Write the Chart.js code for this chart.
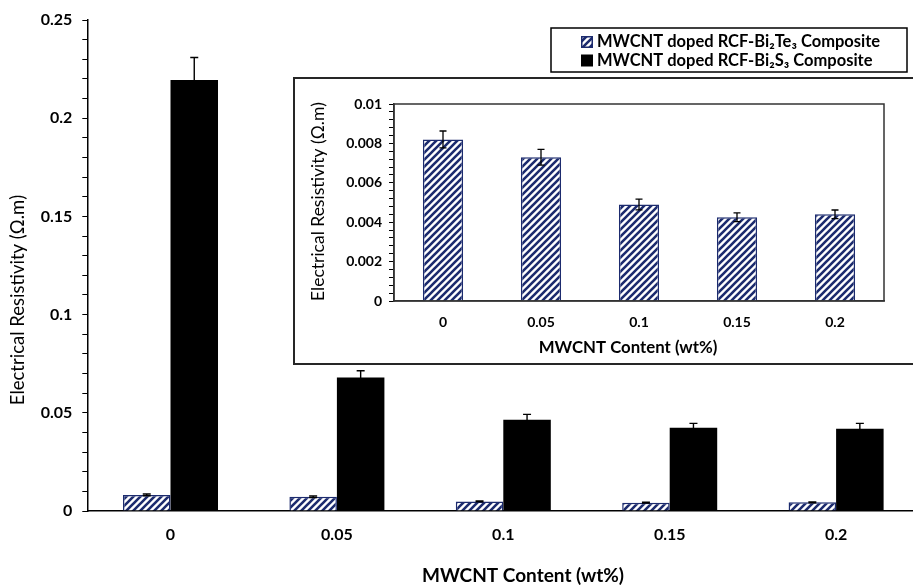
<!DOCTYPE html>
<html>
<head>
<meta charset="utf-8">
<title>Electrical resistivity of MWCNT doped RCF composites</title>
<script src="https://cdn.jsdelivr.net/npm/chart.js@4.4.1/dist/chart.umd.min.js"></script>
<style>
  html, body { margin: 0; padding: 0; background: #fff; }
  #stage { position: relative; width: 913px; height: 587px; overflow: hidden; background: #fff; }
  #main { position: absolute; left: 0; top: 0; }
  #insetBox { position: absolute; left: 293px; top: 77px; width: 640px; height: 284px;
              border: 2px solid #262626; background: #fff; }
  #inset { position: absolute; left: 0; top: 0; }
</style>
</head>
<body>
<div id="stage">
  <canvas id="main" width="930" height="587"></canvas>
  <div id="insetBox"><canvas id="inset" width="630" height="284"></canvas></div>
</div>
<script>
// MWCNT content categories (wt%)
const contentLabels = ['0', '0.05', '0.1', '0.15', '0.2'];

// Bi2Te3 composite: resistivity (Ω.m) and error
const bi2te3Resistivity = [0.0082, 0.0073, 0.0049, 0.00425, 0.0044];
const bi2te3Error = [0.00043, 0.0004, 0.00027, 0.00022, 0.00022];

// Bi2S3 composite: resistivity (Ω.m) and error
const bi2s3Resistivity = [0.2195, 0.068, 0.0465, 0.0424, 0.0419];
const bi2s3Error = [0.0114, 0.0034, 0.0027, 0.0022, 0.0027];

// Labelled (major) tick values of both value axes
const mainYLabels = ['0', '0.05', '0.1', '0.15', '0.2', '0.25'];
const insetYLabels = ['0', '0.002', '0.004', '0.006', '0.008', '0.01'];

const seriesNames = ['MWCNT doped RCF-Bi\u2082Te\u2083 Composite', 'MWCNT doped RCF-Bi\u2082S\u2083 Composite'];

const NAVY = '#1c2b6e';
const FONT = 'Lato, "Open Sans", sans-serif';

// diagonal hatch fill for the Bi2Te3 bars
function makeHatch() {
  const s = 7;
  const t = document.createElement('canvas');
  t.width = s; t.height = s;
  const c = t.getContext('2d');
  c.fillStyle = '#fff';
  c.fillRect(0, 0, s, s);
  c.strokeStyle = NAVY;
  c.lineWidth = 2.6;
  c.beginPath();
  c.moveTo(-2, s + 2); c.lineTo(s + 2, -2);
  c.moveTo(-2, 2); c.lineTo(2, -2);
  c.moveTo(s - 2, s + 2); c.lineTo(s + 2, s - 2);
  c.stroke();
  return c.createPattern(t, 'repeat');
}
const hatch = makeHatch();

function tickFormatter(list) {
  return function (v) {
    const s = String(+Number(v).toFixed(5));
    return list.includes(s) ? s : '';
  };
}

// vertical error bars with caps, placed through the value scale
const errorBars = {
  id: 'errorBars',
  afterDatasetsDraw(chart, args, opts) {
    const ctx = chart.ctx;
    const ys = chart.scales.y;
    chart.data.datasets.forEach((ds, di) => {
      if (!ds.errors) return;
      const meta = chart.getDatasetMeta(di);
      meta.data.forEach((bar, i) => {
        const v = ds.data[i], e = ds.errors[i];
        const x = bar.x;
        const y1 = ys.getPixelForValue(v + e);
        const y2 = ys.getPixelForValue(v - e);
        ctx.save();
        ctx.strokeStyle = '#000';
        ctx.lineWidth = opts.width;
        ctx.beginPath();
        ctx.moveTo(x, y1); ctx.lineTo(x, y2);
        ctx.moveTo(x - opts.cap, y1); ctx.lineTo(x + opts.cap, y1);
        ctx.moveTo(x - opts.cap, y2); ctx.lineTo(x + opts.cap, y2);
        ctx.stroke();
        ctx.restore();
      });
    });
  }
};

// axis titles and boxed legend of the main chart
const mainDecor = {
  id: 'mainDecor',
  afterDraw(chart) {
    const ctx = chart.ctx;
    ctx.save();
    ctx.fillStyle = '#000';
    ctx.textAlign = 'center';
    ctx.textBaseline = 'middle';
    ctx.font = 'bold 19px ' + FONT;
    ctx.fillText('MWCNT Content (wt%)', 523, 576);
    ctx.save();
    ctx.translate(18, 300);
    ctx.rotate(-Math.PI / 2);
    ctx.font = '18.5px ' + FONT;
    ctx.fillText('Electrical Resistivity (\u03A9.m)', 0, 0);
    ctx.restore();

    // legend
    ctx.fillStyle = '#fff';
    ctx.fillRect(551, 28, 356, 44);
    ctx.strokeStyle = '#000';
    ctx.lineWidth = 1.5;
    ctx.strokeRect(551, 28, 356, 44);
    const ds = chart.data.datasets;
    const rows = [42, 60.5];
    ds.forEach((d, i) => {
      const y = rows[i];
      ctx.fillStyle = d.backgroundColor;
      ctx.fillRect(581, y - 6, 12, 12);
      if (d.borderWidth) {
        ctx.strokeStyle = d.borderColor;
        ctx.lineWidth = 1.5;
        ctx.strokeRect(581.75, y - 5.25, 10.5, 10.5);
      }
      ctx.fillStyle = '#000';
      ctx.textAlign = 'left';
      ctx.font = 'bold 16.5px ' + FONT;
      ctx.fillText(d.label, 597, y);
    });
    ctx.restore();
  }
};

// plot frame and axis titles of the inset chart
const insetDecor = {
  id: 'insetDecor',
  afterDraw(chart) {
    const ctx = chart.ctx;
    const a = chart.chartArea;
    ctx.save();
    ctx.strokeStyle = '#333';
    ctx.lineWidth = 1.5;
    ctx.strokeRect(a.left, a.top, a.right - a.left, a.bottom - a.top);
    ctx.fillStyle = '#000';
    ctx.textAlign = 'center';
    ctx.textBaseline = 'middle';
    ctx.font = 'bold 16.8px ' + FONT;
    ctx.fillText('MWCNT Content (wt%)', 333, 269);
    ctx.translate(23, 122.5);
    ctx.rotate(-Math.PI / 2);
    ctx.font = '17.5px ' + FONT;
    ctx.fillText('Electrical Resistivity (\u03A9.m)', 0, 0);
    ctx.restore();
  }
};

const tickFont = (size) => ({ family: FONT, weight: 'bold', size: size });

// main chart: both composites
new Chart(document.getElementById('main'), {
  type: 'bar',
  data: {
    labels: contentLabels,
    datasets: [
      {
        label: seriesNames[0],
        data: bi2te3Resistivity,
        errors: bi2te3Error,
        backgroundColor: hatch,
        borderColor: NAVY,
        borderWidth: 1.5,
        categoryPercentage: 0.571,
        barPercentage: 1
      },
      {
        label: seriesNames[1],
        data: bi2s3Resistivity,
        errors: bi2s3Error,
        backgroundColor: '#000',
        borderWidth: 0,
        categoryPercentage: 0.571,
        barPercentage: 1
      }
    ]
  },
  options: {
    responsive: false,
    animation: false,
    devicePixelRatio: 1,
    layout: { padding: { top: 20, right: 10.7, left: 0, bottom: 0 } },
    plugins: {
      legend: { display: false },
      tooltip: { enabled: false },
      errorBars: { cap: 4, width: 1.4 }
    },
    scales: {
      x: {
        grid: { display: false, drawTicks: false },
        border: { display: true, color: '#000', width: 1.5 },
        ticks: { color: '#000', font: tickFont(16), padding: 14 },
        afterFit(s) { s.height = 76; }
      },
      y: {
        min: 0,
        max: 0.25,
        ticks: { stepSize: 0.01, autoSkip: false, padding: 10, color: '#000',
                 font: tickFont(16), callback: tickFormatter(mainYLabels) },
        grid: { display: true, drawOnChartArea: false, drawTicks: true, tickLength: 5,
                color: '#000', lineWidth: 1 },
        border: { display: true, color: '#000', width: 1.5 },
        afterFit(s) { s.width = 87.3; }
      }
    }
  },
  plugins: [errorBars, mainDecor]
});

// inset chart: Bi2Te3 composite on its own scale
new Chart(document.getElementById('inset'), {
  type: 'bar',
  data: {
    labels: contentLabels,
    datasets: [
      {
        label: seriesNames[0],
        data: bi2te3Resistivity,
        errors: bi2te3Error,
        backgroundColor: hatch,
        borderColor: NAVY,
        borderWidth: 1.5,
        categoryPercentage: 1,
        barPercentage: 0.41
      }
    ]
  },
  options: {
    responsive: false,
    animation: false,
    devicePixelRatio: 1,
    layout: { padding: { top: 25, right: 41, left: 0, bottom: 0 } },
    plugins: {
      legend: { display: false },
      tooltip: { enabled: false },
      errorBars: { cap: 3.5, width: 1.3 }
    },
    scales: {
      x: {
        grid: { display: false, drawTicks: false },
        border: { display: true, color: '#333', width: 1.5 },
        ticks: { color: '#000', font: tickFont(14), padding: 12.6 },
        afterFit(s) { s.height = 62; }
      },
      y: {
        min: 0,
        max: 0.01,
        ticks: { stepSize: 0.0004, autoSkip: false, padding: 7, color: '#000',
                 font: tickFont(14), callback: tickFormatter(insetYLabels) },
        grid: { display: true, drawOnChartArea: false, drawTicks: true, tickLength: 5,
                color: '#000', lineWidth: 1 },
        border: { display: true, color: '#333', width: 1.5 },
        afterFit(s) { s.width = 99; }
      }
    }
  },
  plugins: [errorBars, insetDecor]
});
</script>
</body>
</html>
